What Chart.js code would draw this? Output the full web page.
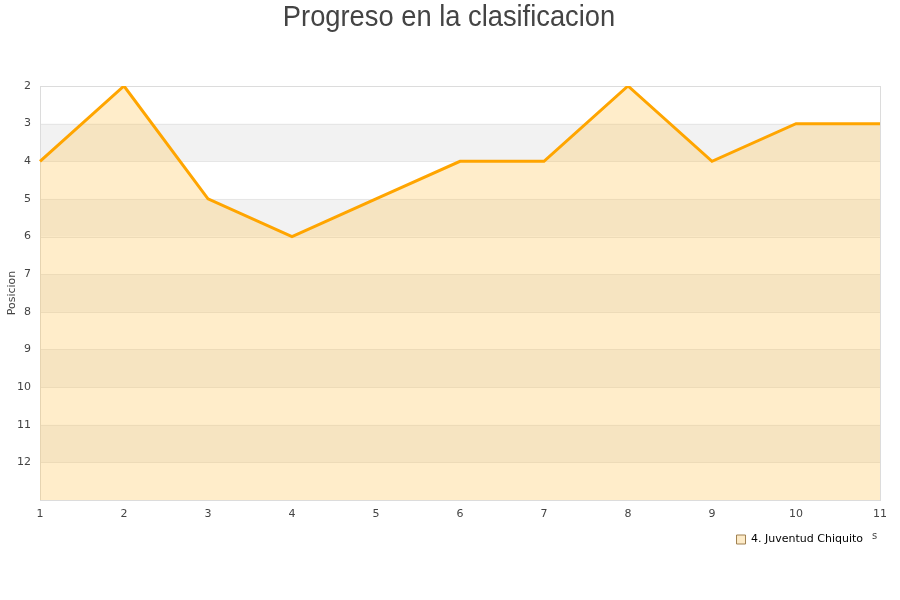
<!DOCTYPE html>
<html>
<head>
<meta charset="utf-8">
<script src="https://cdn.jsdelivr.net/npm/chart.js@4/dist/chart.umd.min.js"></script>
<style>
  html, body { margin: 0; padding: 0; background: #fff; }
  #wrap { width: 900px; height: 600px; }
</style>
</head>
<body>
<div id="wrap"><canvas id="chart" width="900" height="600"></canvas></div>
<script>
const jornadas = ['1', '2', '3', '4', '5', '6', '7', '8', '9', '10', '11']
const posiciones = [4, 2, 5, 6, 5, 4, 4, 2, 4, 3, 3]
const yMin = 2
const yMax = 13
const equipo = '4. Juventud Chiquito'
const titulo = 'Progreso en la clasificacion'

// alternating horizontal bands behind the data + title
const bandsPlugin = {
  id: 'bands',
  afterLayout(chart) {
    // nudge the legend a bit to the left
    chart.legend.left -= 5
    chart.legend.right -= 5
  },
  beforeDatasetsDraw(chart) {
    const { ctx, chartArea, scales } = chart
    const y = scales.y
    ctx.save()
    for (let v = yMin; v < yMax; v++) {
      if ((v - yMin) % 2 === 1) {
        const top = y.getPixelForValue(v)
        const bot = y.getPixelForValue(v + 1)
        ctx.fillStyle = '#f2f2f2'
        ctx.fillRect(chartArea.left, top, chartArea.right - chartArea.left, bot - top)
      }
    }
    ctx.strokeStyle = '#e6e6e6'
    ctx.lineWidth = 1
    for (let v = yMin + 1; v < yMax; v++) {
      const p = Math.round(y.getPixelForValue(v)) + 0.5
      ctx.beginPath()
      ctx.moveTo(chartArea.left, p)
      ctx.lineTo(chartArea.right, p)
      ctx.stroke()
    }
    ctx.strokeStyle = '#dcdcdc'
    ctx.strokeRect(Math.round(chartArea.left) + 0.5, Math.round(chartArea.top) + 0.5,
      Math.round(chartArea.right - chartArea.left), Math.round(chartArea.bottom - chartArea.top))
    ctx.restore()
  },
  afterDraw(chart) {
    const { ctx } = chart
    ctx.save()
    ctx.fillStyle = '#444'
    ctx.textAlign = 'center'
    ctx.textBaseline = 'alphabetic'
    ctx.font = '30px "Liberation Sans"'
    ctx.translate(449, 26)
    ctx.scale(0.91, 1)
    ctx.fillText(titulo, 0, 0)
    ctx.restore()
    ctx.save()
    ctx.fillStyle = '#444'
    ctx.font = '10px "DejaVu Sans"'
    ctx.fillText('s', 872, 536)
    ctx.restore()
  }
}

const ctx = document.getElementById('chart')
const myChart = new Chart(ctx, {
  type: 'line',
  data: {
    labels: jornadas,
    datasets: [{
      label: equipo,
      data: posiciones,
      borderColor: '#ffa500',
      backgroundColor: 'rgba(255, 195, 80, 0.3)',
      borderWidth: 3,
      pointRadius: 0,
      tension: 0,
      fill: 'start'
    }]
  },
  options: {
    responsive: false,
    animation: false,
    layout: { padding: { left: 0, right: 20, top: 86, bottom: 45 } },
    plugins: {
      title: { display: false },
      legend: {
        position: 'bottom',
        align: 'end',
        labels: {
          boxWidth: 9,
          boxHeight: 9,
          padding: 12,
          color: '#111',
          font: { family: 'DejaVu Sans', size: 11 },
          generateLabels(chart) {
            return [{
              text: equipo,
              fillStyle: '#fdebc8',
              strokeStyle: '#a08050',
              lineWidth: 1,
              datasetIndex: 0
            }]
          }
        }
      },
      tooltip: { enabled: false }
    },
    scales: {
      x: {
        offset: false,
        grid: { display: false, drawTicks: false },
        border: { display: false },
        afterFit(scale) { scale.height = 22 },
        ticks: { color: '#444', font: { family: 'DejaVu Sans', size: 11 }, padding: 8, maxRotation: 0 }
      },
      y: {
        reverse: true,
        min: yMin,
        max: yMax,
        afterBuildTicks(scale) {
          scale.ticks = []
          for (let v = yMin; v < yMax; v++) scale.ticks.push({ value: v })
        },
        afterFit(scale) { scale.width = 40 },
        grid: { display: false, drawTicks: false },
        border: { display: false },
        title: { display: true, text: 'Posicion', color: '#444', font: { family: 'DejaVu Sans', size: 11 }, padding: 6 },
        ticks: { color: '#444', font: { family: 'DejaVu Sans', size: 11 }, padding: 9, stepSize: 1 }
      }
    }
  },
  plugins: [bandsPlugin]
})
</script>
</body>
</html>
